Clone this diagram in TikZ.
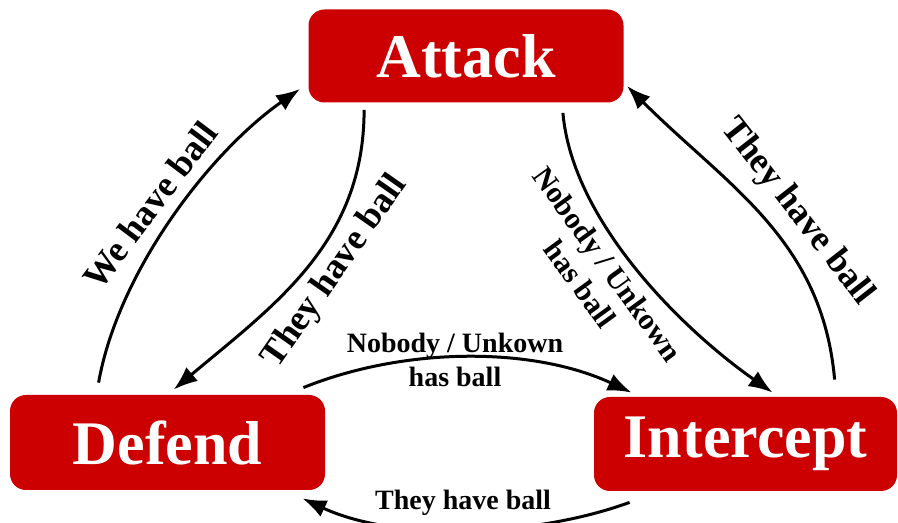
\documentclass[tikz,border=0pt]{standalone}
\usepackage{fontspec}
\setmainfont{Liberation Serif}
\usetikzlibrary{arrows.meta}
\definecolor{boxred}{HTML}{CC0000}

\begin{document}
\begin{tikzpicture}[x=0.5pt,y=0.5pt]
		\tikzset{> = {Latex[length=12pt,width=9pt]}}
		\tikzset{state/.style = {fill = boxred, rounded corners = 8pt, text = white, inner sep = 0pt,
				font = \fontsize{31}{31}\selectfont\bfseries},
			flow/.style = {->, line width = 1.5pt},
			lbl/.style = {align = center, inner sep = 0pt, font = \fontsize{14}{17}\selectfont\bfseries},
			biglbl/.style = {lbl, font = \fontsize{18}{21}\selectfont\bfseries}}
		\useasboundingbox (0,0) rectangle (898,523);
		\node[state, minimum width = 157.5pt, minimum height = 46.5pt] (attack) at (466,467) {Attack};
		\node[state, minimum width = 157.5pt, minimum height = 47.5pt] (defend) at (167.5,80.5) {Defend};
		\node[state, minimum width = 151.5pt, minimum height = 47pt] (intercept) at (745.5,79) {Intercept};
		% defend <-> attack
		\draw[flow] ([shift={(44.5pt,6pt)}]defend.north west) to[out=80,in=215,looseness=0.8] ([shift={(-4pt,7pt)}]attack.south west);
		\draw[flow] ([shift={(28pt,-3.5pt)}]attack.south west) to[out=-90,in=40] ([shift={(82pt,2.5pt)}]defend.north west);
		% attack <-> intercept
		\draw[flow] ([shift={(-30.5pt,-5pt)}]attack.south east) to[out=-85,in=145,looseness=0.8] ([shift={(89.5pt,2pt)}]intercept.north west);
		\draw[flow] ([shift={(120.5pt,8.5pt)}]intercept.north west) to[out=95,in=-45] ([shift={(1.5pt,8.5pt)}]attack.south east);
		% defend <-> intercept
		\draw[flow] ([shift={(-11pt,3.5pt)}]defend.north east) to[out=22,in=155,looseness=0.85] ([shift={(19pt,2pt)}]intercept.north west);
		\draw[flow] ([shift={(18pt,-5.5pt)}]intercept.south west) to[out=200,in=-25,looseness=0.8] ([shift={(-11.5pt,-4pt)}]defend.south east);
		\node[biglbl, rotate = 53] (we) at (150,318) {We have ball};
		\node[biglbl, rotate = 55] (theyleft) at (335,251) {They have ball};
		\node[biglbl, rotate = -52] (theyright) at (797,311) {They have ball};
		\node[lbl, rotate = -54, font = \fontsize{15}{17}\selectfont\bfseries] (nobodyright) at (594,249) {Nobody / Unkown\\has ball};
		\node[lbl] (nobodymid) at (455,163) {Nobody / Unkown\\has ball};
		\node[lbl] (theybottom) at (463,20) {They have ball};
	\end{tikzpicture}
\end{document}
